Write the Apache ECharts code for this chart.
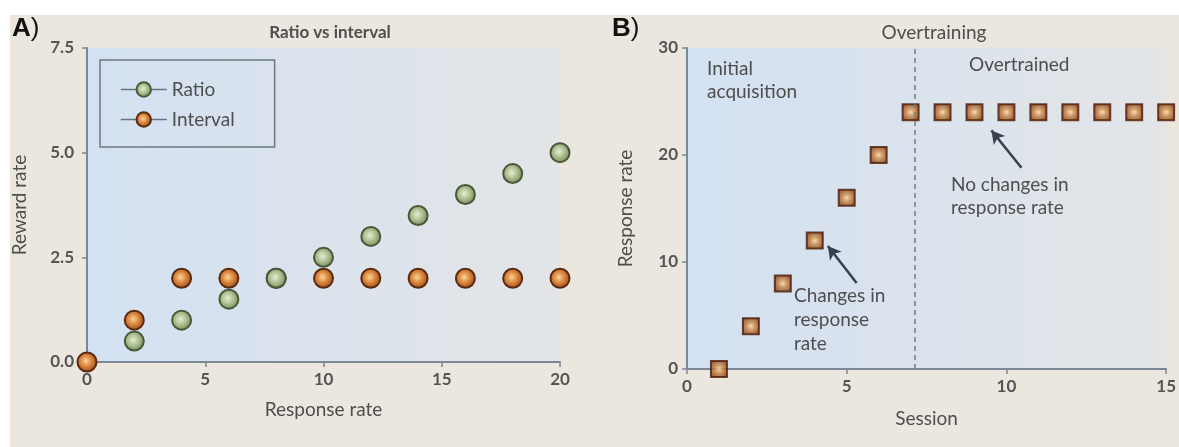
<!DOCTYPE html>
<html><head><meta charset="utf-8">
<script src="https://cdn.jsdelivr.net/npm/echarts@6/dist/echarts.min.js"></script>
<style>
html,body{margin:0;padding:0;background:#fff;}
#bg{position:absolute;left:10px;top:15px;width:1169px;height:432px;background:#ebe7df;}
#main{position:absolute;left:0;top:0;width:1179px;height:447px;}
</style></head>
<body><div id="bg"></div><div id="main"></div>
<script>
// Panel A data
const ratioX = [2, 4, 6, 8, 10, 12, 14, 16, 18, 20];
const ratioY = [0.5, 1, 1.5, 2, 2.5, 3, 3.5, 4, 4.5, 5];
const intervalX = [0, 2, 4, 6, 8, 10, 12, 14, 16, 18, 20];
const intervalY = [0, 1, 2, 2, 2, 2, 2, 2, 2, 2, 2];
const yTicksA = ['0.0', '2.5', '5.0', '7.5'];
// Panel B data
const sessions = [1, 2, 3, 4, 5, 6, 7, 8, 9, 10, 11, 12, 13, 14, 15];
const responseRate = [0, 4, 8, 12, 16, 20, 24, 24, 24, 24, 24, 24, 24, 24, 24];
const phaseBoundary = 7.12;

const FONT = 'Lato';
const txt = '#4e4e4e';
const axisCol = '#7c8895';

function pairs(xs, ys){ return xs.map((x,i)=>[x, ys[i]]); }
const plotBg = {type:'linear', x:0, y:0, x2:1, y2:0, colorStops:[{offset:0,color:'#d3e1f2'},{offset:1,color:'#e3e5e7'}]};
const greenFill = {type:'radial', x:0.45, y:0.45, r:0.55, colorStops:[{offset:0,color:'#e6eed2'},{offset:0.55,color:'#a8ba8a'},{offset:1,color:'#76895b'}]};
const orangeFill = {type:'radial', x:0.45, y:0.45, r:0.55, colorStops:[{offset:0,color:'#fbd495'},{offset:0.5,color:'#d9843c'},{offset:1,color:'#9a4e1e'}]};
const squareFill = {type:'radial', x:0.5, y:0.5, r:0.62, colorStops:[{offset:0,color:'#f6dcaa'},{offset:0.35,color:'#cf8644'},{offset:1,color:'#6e2c0a'}]};

function axisCommon(){
  return {
    axisLine:{show:true, onZero:false, lineStyle:{color:axisCol, width:2}},
    axisTick:{show:true, length:5, lineStyle:{color:axisCol, width:1.5}},
    splitLine:{show:false},
    axisLabel:{color:'#555', fontFamily:FONT, fontSize:17, fontWeight:'bold', margin:9},
    nameTextStyle:{color:txt, fontFamily:FONT, fontSize:19},
    nameLocation:'middle'
  };
}

const chart = echarts.init(document.getElementById('main'), null, {renderer:'canvas'});
chart.setOption({
  animation:false,
  backgroundColor:'transparent',
  title:[
    {text:'Ratio vs interval', left:325, top:19, textAlign:'center', textStyle:{color:txt, fontFamily:FONT, fontSize:17, fontWeight:'bold'}},
    {text:'Overtraining', left:929, top:18, textAlign:'center', textStyle:{color:txt, fontFamily:FONT, fontSize:19, fontWeight:'normal'}}
  ],
  grid:[
    {left:87, right:619, top:48, bottom:85, show:true, backgroundColor:plotBg, borderWidth:0},
    {left:687, right:9, top:48, bottom:78, show:true, backgroundColor:plotBg, borderWidth:0}
  ],
  legend:{
    orient:'vertical', left:100, top:60,
    padding:[20, 40, 18, 20], itemGap:11, itemWidth:46, itemHeight:18,
    borderColor:'#6d7883', borderWidth:1.5, backgroundColor:'transparent',
    textStyle:{color:txt, fontFamily:FONT, fontSize:19},
    lineStyle:{color:'#6a747e', width:1.5, opacity:1},
    data:['Ratio','Interval'], selectedMode:false
  },
  xAxis:[
    Object.assign(axisCommon(), {gridIndex:0, type:'value', min:0, max:20, interval:5, name:'Response rate', nameGap:38}),
    Object.assign(axisCommon(), {gridIndex:1, type:'value', min:0, max:15, interval:5, name:'Session', nameGap:40})
  ],
  yAxis:[
    Object.assign(axisCommon(), {gridIndex:0, type:'value', min:0, max:7.5, interval:2.5, name:'Reward rate', nameGap:58,
      axisLabel:{color:'#555', fontFamily:FONT, fontSize:17, fontWeight:'bold', margin:13, formatter:(v)=>yTicksA[Math.round(v/2.5)]}}),
    Object.assign(axisCommon(), {gridIndex:1, type:'value', min:0, max:30, interval:10, name:'Response rate', nameGap:52})
  ],
  series:[
    {name:'Interval', type:'line', xAxisIndex:0, yAxisIndex:0, data:pairs(intervalX, intervalY),
      symbol:'circle', symbolSize:19, showSymbol:true, lineStyle:{opacity:0, width:0},
      itemStyle:{color:orangeFill, borderColor:'#5a2a10', borderWidth:2}, z:3},
    {name:'Ratio', type:'line', xAxisIndex:0, yAxisIndex:0, data:pairs(ratioX, ratioY),
      symbol:'circle', symbolSize:19, showSymbol:true, lineStyle:{opacity:0, width:0},
      itemStyle:{color:greenFill, borderColor:'#4a583a', borderWidth:2}, z:4},
    {name:'Sessions', type:'scatter', xAxisIndex:1, yAxisIndex:1, data:pairs(sessions, responseRate),
      symbol:'rect', symbolSize:16,
      itemStyle:{color:squareFill, borderColor:'#4a1a05', borderWidth:2}, z:4,
      markLine:{silent:true, animation:false, label:{show:false},
        data:[
          [{coord:[phaseBoundary,0], symbol:'none'},{coord:[phaseBoundary,30], symbol:'none', lineStyle:{color:'#737d87', width:1.5, type:[5,4]}}],
          [{coord:[5.31,8.04], symbol:'none'},{coord:[4.41,11.5], symbol:'arrow', symbolSize:[11,13], lineStyle:{color:'#36434f', width:2.5, type:'solid'}}],
          [{coord:[10.47,18.8], symbol:'none'},{coord:[9.53,22.3], symbol:'arrow', symbolSize:[11,13], lineStyle:{color:'#36434f', width:2.5, type:'solid'}}]
        ]}
    }
  ],
  graphic:[
    {type:'text', left:12, top:16, style:{text:'{b|A}{n|)}', rich:{b:{fontFamily:'Liberation Sans', fontWeight:'bold', fontSize:26, fill:'#111'}, n:{fontFamily:'Liberation Sans', fontSize:26, fill:'#111'}}}},
    {type:'text', left:612, top:16, style:{text:'{b|B}{n|)}', rich:{b:{fontFamily:'Liberation Sans', fontWeight:'bold', fontSize:26, fill:'#111'}, n:{fontFamily:'Liberation Sans', fontSize:26, fill:'#111'}}}},
    {type:'text', left:707, top:57, style:{text:'Initial\nacquisition', fill:txt, fontFamily:FONT, fontSize:19, lineHeight:23}},
    {type:'text', left:969, top:55, style:{text:'Overtrained', fill:txt, fontFamily:FONT, fontSize:19}},
    {type:'text', left:951, top:173, style:{text:'No changes in\nresponse rate', fill:txt, fontFamily:FONT, fontSize:19, lineHeight:23}},
    {type:'text', left:794, top:284, style:{text:'Changes in\nresponse\nrate', fill:txt, fontFamily:FONT, fontSize:19, lineHeight:24}}
  ]
});
</script></body></html>
